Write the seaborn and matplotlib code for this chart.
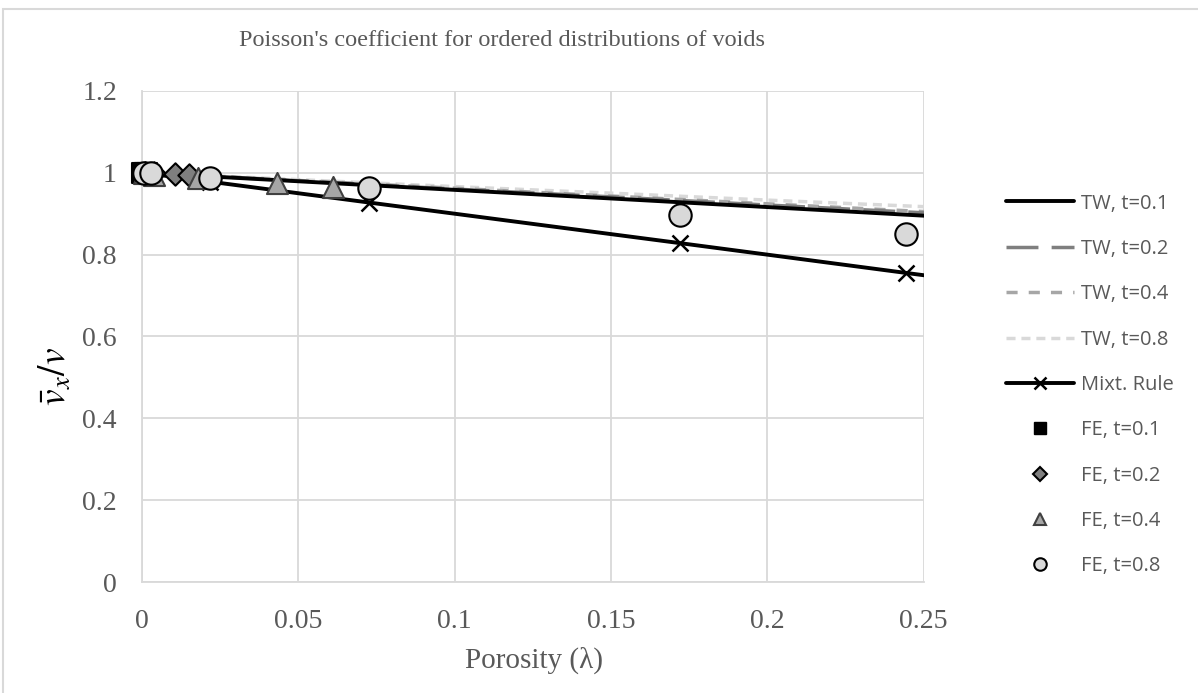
import matplotlib
matplotlib.use("Agg")
import matplotlib.pyplot as plt
from matplotlib.lines import Line2D
from matplotlib.patches import Rectangle
import pandas as pd
import seaborn as sns

# Theoretical (TW) curves and mixture rule
tw_porosity = [0.0, 0.05, 0.10, 0.15, 0.20, 0.25, 0.30]
tw_t01 = [1.0, 0.979, 0.958, 0.937, 0.916, 0.895, 0.874]
tw_t02 = [1.0, 0.980, 0.960, 0.941, 0.921, 0.902, 0.882]
tw_t04 = [1.0, 0.981, 0.962, 0.943, 0.924, 0.905, 0.886]
tw_t08 = [1.0, 0.983, 0.966, 0.950, 0.933, 0.917, 0.900]

mix_porosity = [0.0, 0.0218, 0.0727, 0.172, 0.2445, 0.30]
mix_rule = [1.0, 0.978, 0.927, 0.828, 0.755, 0.70]

# Finite element results
fe_t01_x = [0.0, 0.0005, 0.001, 0.0017]
fe_t01_y = [1.0, 1.0, 1.0, 1.0]
fe_t02_x = [0.001, 0.004, 0.0106, 0.015]
fe_t02_y = [1.0, 0.999, 0.997, 0.994]
fe_t04_x = [0.0005, 0.004, 0.018, 0.0432, 0.0611]
fe_t04_y = [1.0, 0.995, 0.988, 0.975, 0.965]
fe_t08_x = [0.0008, 0.003, 0.0218, 0.0727, 0.172, 0.2445]
fe_t08_y = [1.0, 1.0, 0.988, 0.963, 0.897, 0.851]

x_ticks = [0, 0.05, 0.1, 0.15, 0.2, 0.25]
x_tick_labels = ["0", "0.05", "0.1", "0.15", "0.2", "0.25"]
y_ticks = [0, 0.2, 0.4, 0.6, 0.8, 1.0, 1.2]
y_tick_labels = ["0", "0.2", "0.4", "0.6", "0.8", "1", "1.2"]

sns.set_style("white")
plt.rcParams["font.family"] = ["Liberation Serif", "DejaVu Serif"]
plt.rcParams["mathtext.fontset"] = "stix"

txt = "#595959"
grid = "#d9d9d9"

# dash patterns (in units of line width)
dash_t02 = (9.2, 3.8)
dash_t04 = (3.2, 3.2)
dash_t08 = (2.6, 1.7)

fig = plt.figure(figsize=(11.98, 6.93), dpi=100)
ax = fig.add_axes([0.1185, 0.160, 0.6525, 0.709])

tw = pd.DataFrame({"x": tw_porosity, "t01": tw_t01, "t02": tw_t02,
                   "t04": tw_t04, "t08": tw_t08})
lines = [("t08", "#d9d9d9", dash_t08, 2.5),
         ("t04", "#a6a6a6", dash_t04, 2.5),
         ("t02", "#7f7f7f", dash_t02, 2.5),
         ("t01", "black", None, 2.8)]
for col, c, dash, lw in lines:
    sns.lineplot(data=tw, x="x", y=col, color=c, lw=lw, ax=ax, zorder=3)
    if dash is not None:
        ax.lines[-1].set_dashes(dash)

mix = pd.DataFrame({"x": mix_porosity, "y": mix_rule})
sns.lineplot(data=mix, x="x", y="y", color="black", lw=2.8, marker="x",
             markersize=11, markeredgewidth=1.8, markeredgecolor="black",
             ax=ax, zorder=4)

fe_sets = [(fe_t01_x, fe_t01_y, "s", "black", "black", 190),
           (fe_t02_x, fe_t02_y, "D", "#7f7f7f", "black", 130),
           (fe_t04_x, fe_t04_y, "^", "#a6a6a6", "#404040", 230),
           (fe_t08_x, fe_t08_y, "o", "#d9d9d9", "black", 260)]
for xs, ys, m, fc, ec, s in fe_sets:
    sns.scatterplot(x=xs, y=ys, marker=m, color=fc, edgecolor=ec,
                    linewidth=1.5, s=s, ax=ax, zorder=5, clip_on=False)

ax.set_xlim(0, 0.25)
ax.set_ylim(0, 1.2)
ax.set_xticks(x_ticks)
ax.set_xticklabels(x_tick_labels)
ax.set_yticks(y_ticks)
ax.set_yticklabels(y_tick_labels)
ax.tick_params(axis="both", length=0, labelsize=20, labelcolor=txt)
ax.tick_params(axis="y", pad=18)
ax.tick_params(axis="x", pad=19)
ax.grid(True, color=grid, lw=1.3)
ax.set_axisbelow(True)
for side in ["top", "right"]:
    ax.spines[side].set_visible(False)
for side in ["left", "bottom"]:
    ax.spines[side].set_color(grid)
    ax.spines[side].set_linewidth(1.3)

ax.set_xlabel("")
ax.set_ylabel("")
fig.text(534 / 1198, 1 - 660 / 693, "Porosity (λ)", fontsize=21, color=txt,
         ha="center", va="center")
fig.text(56 / 1198, 1 - 377 / 693, r"$\bar{v}_x/v$", fontsize=27,
         color="black", ha="center", va="center", rotation=90)
fig.text(502 / 1198, 1 - 40 / 693,
         "Poisson's coefficient for ordered distributions of voids",
         fontsize=17.5, color=txt, ha="center", va="center")

handles = [
    Line2D([], [], color="black", lw=2.8),
    Line2D([], [], color="#7f7f7f", lw=2.5, dashes=dash_t02),
    Line2D([], [], color="#a6a6a6", lw=2.5, dashes=dash_t04),
    Line2D([], [], color="#d9d9d9", lw=2.5, dashes=dash_t08),
    Line2D([], [], color="black", lw=2.8, marker="x", markersize=9,
           markeredgewidth=1.8),
    Line2D([], [], ls="", marker="s", markersize=9, color="black"),
    Line2D([], [], ls="", marker="D", markersize=7, markerfacecolor="#7f7f7f",
           markeredgecolor="black", markeredgewidth=1.5),
    Line2D([], [], ls="", marker="^", markersize=9, markerfacecolor="#a6a6a6",
           markeredgecolor="#404040", markeredgewidth=1.5),
    Line2D([], [], ls="", marker="o", markersize=9, markerfacecolor="#d9d9d9",
           markeredgecolor="black", markeredgewidth=1.5),
]
labels = ["TW, t=0.1", "TW, t=0.2", "TW, t=0.4", "TW, t=0.8", "Mixt. Rule",
          "FE, t=0.1", "FE, t=0.2", "FE, t=0.4", "FE, t=0.8"]
leg = fig.legend(handles, labels, loc="center left",
                 bbox_to_anchor=(0.831, 1 - 385 / 693), frameon=False,
                 prop={"family": ["Open Sans", "DejaVu Sans"], "size": 14.5},
                 labelcolor=txt, handlelength=3.4, handletextpad=0.35,
                 labelspacing=1.26, borderpad=0)

fig.patches.append(Rectangle((0.0025, -0.05), 1.1, 1.037, transform=fig.transFigure,
                             fill=False, edgecolor=grid, lw=1.5))

fig.savefig("out.png", dpi=100)
